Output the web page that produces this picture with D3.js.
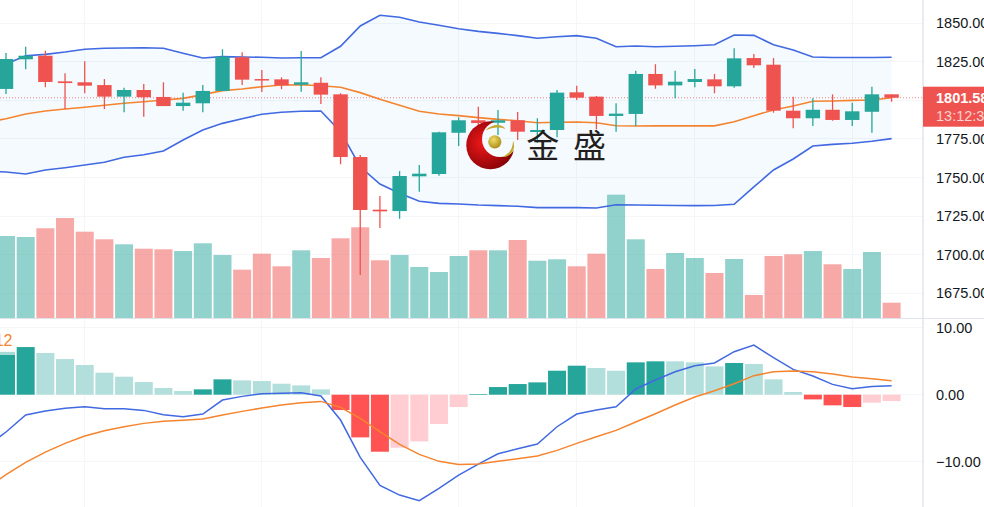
<!DOCTYPE html>
<html>
<head>
<meta charset="utf-8">
<script src="https://cdn.jsdelivr.net/npm/d3@7/dist/d3.min.js"></script>
<style>
html,body{margin:0;padding:0;background:#fff;overflow:hidden}
svg{display:block}
text{font-family:"Liberation Sans",Arial,sans-serif}
</style>
</head>
<body>
<svg id="c" width="984" height="507"></svg>
<script>
// Price candles
const opens=[1807.3,1826.5,1828.8,1812.2,1811.6,1809.8,1802.3,1806.6,1802.1,1796.2,1798,1806,1827.8,1813.7,1813.5,1810,1811.3,1803.8,1763.2,1729.1,1728.2,1750.7,1752.2,1778.9,1787,1785.4,1787,1779.4,1780.7,1805.1,1802.3,1789.8,1791.1,1817,1809.6,1811.8,1813.5,1809,1827.3,1823,1793.2,1788.3,1793.8,1787.2,1792.5,1803.8];
const highs=[1830.6,1834.6,1832.1,1817.4,1825.2,1813.7,1808.1,1810.5,1811.6,1804.9,1809.8,1833,1831,1819.6,1814.8,1831.9,1814.8,1804.5,1764.5,1738,1754.1,1758,1779.6,1788.9,1795.8,1793.7,1792.4,1788.3,1806.6,1809.4,1802.7,1798,1819.1,1823.3,1819.1,1820.2,1817,1833.6,1829.9,1827.3,1802.3,1801.2,1803.8,1798.4,1808.7,1803.8];
const lows=[1804,1820,1808.4,1794.3,1804.5,1794.3,1792.2,1789.3,1796.2,1793.2,1792.2,1806,1809.8,1805.3,1807.1,1805.5,1797.5,1758.5,1686.8,1717.2,1723.2,1740.7,1751.1,1770.3,1780,1777.5,1774.2,1772.3,1776,1800.1,1781.1,1779.6,1783.3,1807.4,1801.2,1808.4,1804.5,1808.1,1820.9,1791.9,1781.8,1783.3,1786.7,1783.3,1778.9,1799];
const closes=[1826.7,1828.8,1811.8,1811.1,1809.4,1802.3,1806.6,1801.9,1796.2,1798.4,1806,1828.2,1813.3,1813.1,1809.6,1811.6,1803.6,1763.2,1728.9,1728,1750.9,1752.4,1779.2,1787,1785.2,1787,1779.6,1780.7,1804.9,1801.6,1789.8,1791.3,1817,1809.6,1812,1813.7,1809,1827.1,1822.6,1793.2,1788.3,1793.8,1787.2,1792.8,1803.8,1801.58];

// Bollinger bands: first entry belongs to the bar just left of the visible range
const bbUpper=[1820.2,1823.4,1828.8,1829.7,1831.2,1833,1833.6,1833.8,1834,1833.6,1830.4,1827.3,1828.2,1828,1827.8,1827.3,1827.5,1827.5,1834.9,1848.1,1855,1853.7,1850.6,1848.5,1846.3,1844.6,1843.3,1841.8,1840.1,1841.1,1841.8,1840.1,1834.6,1835.1,1834.6,1834.9,1835.3,1835.9,1842.2,1842,1835.9,1832.5,1828,1827.7,1827.7,1827.7,1827.8];
const bbMiddle=[1785.6,1788,1791.1,1793,1794.3,1795.4,1796.7,1798,1799,1800.1,1801.2,1803.6,1806.2,1807.3,1808.7,1809.8,1810,1809.4,1808.4,1804.9,1800.6,1796.7,1792.8,1791.1,1790,1788.7,1787.6,1786.7,1785.4,1785.7,1785.9,1785.4,1783.5,1783.3,1783.4,1783.4,1783.4,1783.4,1786.1,1790,1793.7,1796.2,1799.3,1799.5,1799.9,1800.1,1801.6];
const bbLower=[1754.1,1753.5,1752.2,1754.8,1756.3,1758,1759.8,1763,1764.7,1767.1,1774.2,1780.7,1785,1788,1790.9,1792.2,1792.8,1793,1779.6,1756.9,1745.7,1739.7,1734.5,1733.2,1732.8,1732.1,1731.7,1731.3,1730.4,1730.4,1730.4,1730.2,1732.3,1732.1,1732,1731.8,1731.7,1731.8,1732.6,1743.8,1754.8,1761.9,1770.3,1771.4,1772.1,1773.4,1775.1];

// Volume (relative units)
const volumes=[82,81,89.7,100,86.3,78.7,73.7,69.3,68.7,67,74.7,63,48.3,64.3,51.7,67.7,60,79.7,90.7,57.7,63,51,46,62,67.7,67.7,78,57.3,58.7,51.7,64.3,123.3,78.7,49,65,60,45,59,23,62,63.7,67,53.7,49,66,15.3];

// MACD
const macdHist=[6.4,7.11,6.22,5.32,4.43,3.28,2.69,1.89,1,0.55,0.8,2.29,2.14,2.04,1.64,1.39,0.8,-2.29,-6.37,-8.51,-7.91,-6.97,-4.38,-1.84,0.1,1.14,1.59,1.84,3.58,4.33,3.98,3.58,4.83,4.98,4.98,4.83,4.23,4.73,4.58,2.29,0.4,-0.7,-1.59,-1.84,-1.19,-0.95];
const macdLine=[-7.76,-5.57,-3.03,-2.44,-2.04,-1.79,-2.09,-2.09,-2.34,-2.99,-3.28,-2.89,-0.8,-0.25,0.15,0.2,0.3,-0.2,-3.78,-9.35,-13.53,-14.98,-15.82,-13.98,-11.99,-10.35,-8.81,-8.06,-7.36,-4.78,-2.89,-2.29,-1.79,0.85,2.19,3.43,4.33,4.73,6.42,7.41,5.52,3.78,2.79,1.54,0.9,1.24,1.34];
const signalLine=[-13.98,-11.94,-10.1,-8.56,-7.26,-6.17,-5.37,-4.78,-4.28,-3.98,-3.83,-3.63,-3.03,-2.49,-1.99,-1.54,-1.19,-1,-1.89,-3.53,-5.52,-7.41,-8.91,-9.95,-10.4,-10.35,-9.95,-9.55,-9.15,-8.31,-7.26,-6.27,-5.32,-4.08,-2.84,-1.54,-0.35,0.6,1.64,2.84,3.43,3.53,3.43,3.08,2.64,2.39,2.09];

// Axis ticks and labels
const priceTicks=[1850,1825,1800,1775,1750,1725,1700,1675];
const priceLabels=[1850,1825,1775,1750,1725,1700,1675];
const macdTicks=[10,0,-10];
const gridBars=[4,13,23,29,35,43];
const lastPrice=1801.58;
const lastPriceText="1801.58";
const countdownText="13:12:37";
const legendText="12";
const logoWords=["金","盛"];

const UP="#26a69a",DOWN="#ef5350",GRID="#f5f6fa",BORDER="#e0e3eb",BLUE="#4169e1",ORANGE="#f5842f";
const svg=d3.select("#c");
const x=d3.scaleLinear().domain([0,45]).range([6,891.6]);
const yP=d3.scaleLinear().domain([1675,1850]).range([293.2,23]);
const yV=d3.scaleLinear().domain([0,100]).range([318,218]);
const yM=d3.scaleLinear().domain([-10,10]).range([461.7,327.7]);
const bars=d3.range(closes.length);
const bandIdx=d3.range(bbUpper.length);
const bx=i=>x(i-1);
const defs=svg.append("defs");
defs.append("clipPath").attr("id","pane1").append("rect").attr("width",923).attr("height",318);
defs.append("clipPath").attr("id","pane2").append("rect").attr("y",319).attr("width",923).attr("height",188);

// Grid
const grid=svg.append("g").attr("stroke",GRID).attr("stroke-width",1).attr("shape-rendering","crispEdges");
grid.selectAll(".gv").data(gridBars).join("line").attr("x1",d=>x(d)).attr("x2",d=>x(d)).attr("y1",0).attr("y2",507);
grid.selectAll(".gh").data(priceTicks).join("line").attr("x1",0).attr("x2",923).attr("y1",d=>yP(d)).attr("y2",d=>yP(d));
grid.selectAll(".gm").data(macdTicks).join("line").attr("x1",0).attr("x2",923).attr("y1",d=>yM(d)).attr("y2",d=>yM(d));

const p1=svg.append("g").attr("clip-path","url(#pane1)");
// Band
p1.append("path").attr("fill","#2196f3").attr("fill-opacity",0.05)
  .attr("d",d3.area().x(bx).y0(i=>yP(bbLower[i])).y1(i=>yP(bbUpper[i]))(bandIdx));
// Volume
p1.selectAll(".vol").data(bars).join("rect")
  .attr("x",i=>x(i)-9).attr("width",18)
  .attr("y",i=>yV(volumes[i])).attr("height",i=>yV(0)-yV(volumes[i]))
  .attr("fill",i=>closes[i]>=opens[i]?UP:DOWN).attr("fill-opacity",0.5);
// Band lines
[[bbUpper,BLUE],[bbLower,BLUE],[bbMiddle,ORANGE]].forEach(([s,c])=>{
  p1.append("path").attr("fill","none").attr("stroke",c).attr("stroke-width",1.6)
    .attr("d",d3.line().x(bx).y(i=>yP(s[i]))(bandIdx));
});
// Last price line
p1.append("line").attr("x1",0).attr("x2",923).attr("y1",yP(lastPrice)).attr("y2",yP(lastPrice))
  .attr("stroke",DOWN).attr("stroke-opacity",.7).attr("stroke-dasharray","1 2").attr("stroke-width",1);
// Candles
const col=i=>closes[i]>=opens[i]?UP:DOWN;
p1.selectAll(".wick").data(bars).join("line")
  .attr("x1",i=>x(i)).attr("x2",i=>x(i)).attr("y1",i=>yP(highs[i])).attr("y2",i=>yP(lows[i]))
  .attr("stroke",col).attr("stroke-width",1.3);
p1.selectAll(".body").data(bars).join("rect")
  .attr("x",i=>x(i)-7.2).attr("width",14.4)
  .attr("y",i=>yP(Math.max(opens[i],closes[i])))
  .attr("height",i=>Math.max(1.5,Math.abs(yP(opens[i])-yP(closes[i]))))
  .attr("fill",col);

// Watermark
const rg=defs.append("radialGradient").attr("id","redG").attr("cx","35%").attr("cy","45%").attr("r","70%");
rg.append("stop").attr("offset","0%").attr("stop-color","#f01818");
rg.append("stop").attr("offset","100%").attr("stop-color","#7a0006");
const gg=defs.append("radialGradient").attr("id","goldG").attr("cx","40%").attr("cy","35%").attr("r","70%");
gg.append("stop").attr("offset","0%").attr("stop-color","#efdc6a");
gg.append("stop").attr("offset","100%").attr("stop-color","#a88a12");
const mask=defs.append("mask").attr("id","cres");
mask.append("rect").attr("x",450).attr("y",100).attr("width",90).attr("height",90).attr("fill","#fff");
mask.append("circle").attr("cx",500).attr("cy",139).attr("r",18).attr("fill","#000");
const wm=svg.append("g");
wm.append("circle").attr("cx",490.3).attr("cy",145.3).attr("r",24).attr("fill","url(#redG)").attr("mask","url(#cres)");
wm.append("circle").attr("cx",494.8).attr("cy",141.8).attr("r",6.6).attr("fill","url(#goldG)");
wm.append("path").attr("d","M485.5 130.5C491 124 502 123 505.5 129C499 126.5 492 127.5 485.5 130.5Z").attr("fill","#c5a832");
wm.append("path").attr("d","M502.5 157C509 154 513 149 513 140.5C516.5 149 511 157 502.5 157Z").attr("fill","#c5a832");
wm.selectAll(".lw").data(logoWords).join("text").attr("x",(d,i)=>542.7+i*46.8).attr("y",157.5)
  .attr("text-anchor","middle").attr("fill","#231f20").attr("font-size",33)
  .style("font-family",'"Noto Sans CJK SC"').text(d=>d);

// MACD pane
const p2=svg.append("g").attr("clip-path","url(#pane2)");
const histCol=i=>{
  const v=macdHist[i],prev=i>0?macdHist[i-1]:0;
  return v>=0?(v>prev?"#26a69a":"#b2dfdb"):(v<prev?"#ff5252":"#ffcdd2");
};
p2.selectAll(".h").data(bars).join("rect")
  .attr("x",i=>x(i)-9).attr("width",18)
  .attr("y",i=>yM(Math.max(0,macdHist[i])))
  .attr("height",i=>Math.abs(yM(macdHist[i])-yM(0)))
  .attr("fill",histCol);
[[macdLine,BLUE],[signalLine,ORANGE]].forEach(([s,c])=>{
  p2.append("path").attr("fill","none").attr("stroke",c).attr("stroke-width",1.5)
    .attr("d",d3.line().x(bx).y(i=>yM(s[i]))(bandIdx));
});
p2.append("rect").attr("x",0).attr("y",330).attr("width",15).attr("height",25).attr("fill","#fff").attr("fill-opacity",.6);
svg.append("text").attr("x",12.5).attr("y",346).attr("text-anchor","end").attr("fill","#f5842f").attr("font-size",16).text(legendText);

// Borders
svg.append("line").attr("x1",0).attr("x2",984).attr("y1",318.5).attr("y2",318.5).attr("stroke",BORDER);
svg.append("line").attr("x1",923).attr("x2",923).attr("y1",0).attr("y2",507).attr("stroke",BORDER).attr("stroke-width",1.4);

// Axes
const ax1=svg.append("g").attr("transform","translate(923,0)").call(d3.axisRight(yP).tickValues(priceLabels).tickFormat(d3.format(".2f")).tickSize(0).tickPadding(13));
const ax2=svg.append("g").attr("transform","translate(923,0.6)").call(d3.axisRight(yM).tickValues(macdTicks).tickFormat(d3.format(".2f")).tickSize(0).tickPadding(13));
[ax1,ax2].forEach(a=>{a.select(".domain").remove();a.selectAll("text").attr("font-size",14.5).attr("fill","#131722").attr("font-family",'"Liberation Sans"');});

// Last price label
svg.append("rect").attr("x",923).attr("y",86.7).attr("width",61).attr("height",40).attr("fill",DOWN);
svg.append("text").attr("x",936).attr("y",103.3).attr("fill","#fff").attr("font-size",14.5).attr("font-weight",700).text(lastPriceText);
svg.append("text").attr("x",936).attr("y",120.8).attr("fill","#fff").attr("fill-opacity",.75).attr("font-size",14.5).text(countdownText);
</script>
</body>
</html>
